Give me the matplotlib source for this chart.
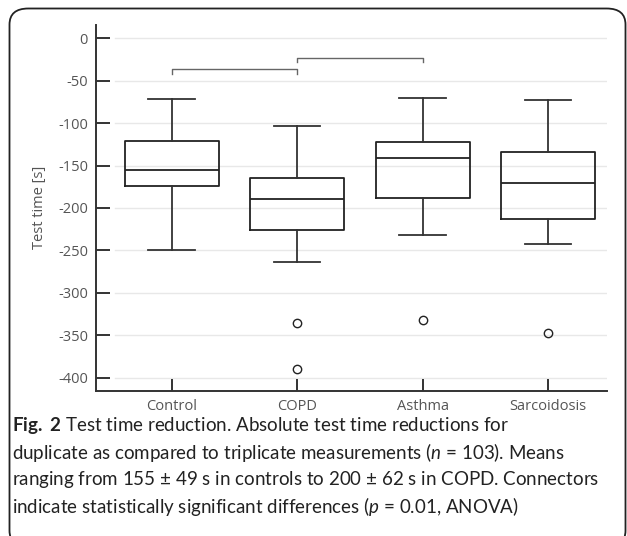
import matplotlib.pyplot as plt
from matplotlib.patches import FancyBboxPatch

plt.rcParams['font.family'] = ['Open Sans', 'DejaVu Sans']
plt.rcParams['mathtext.fontset'] = 'custom'
plt.rcParams['mathtext.rm'] = 'Lato'
plt.rcParams['mathtext.it'] = 'Lato:italic'
plt.rcParams['mathtext.bf'] = 'Lato:bold'

groups = ['Control', 'COPD', 'Asthma', 'Sarcoidosis']
whis_hi = [-71, -103, -70, -73]
q3 = [-121.5, -165, -122.5, -134.5]
medians = [-155.5, -189.5, -141.5, -170.5]
q1 = [-174, -226.5, -188.5, -212.5]
whis_lo = [-249.5, -264, -232, -242]
fliers = [[], [-336, -390], [-332], [-348]]

# significant pairs (1-based group positions) and connector heights
pairs = [(1, 2), (2, 3)]
pair_y = [-36.5, -23]
pair_drop = 5.5

fig = plt.figure(figsize=(6.27, 5.36), dpi=100)
ax = fig.add_axes([0.1536, 0.2711, 0.8144, 0.6823])

stats = []
for i in range(len(groups)):
    stats.append({'label': groups[i], 'whislo': whis_lo[i], 'q1': q1[i],
                  'med': medians[i], 'q3': q3[i], 'whishi': whis_hi[i],
                  'fliers': fliers[i]})

lw = 1.3
ax.bxp(stats, positions=range(1, len(groups) + 1), widths=0.75,
       capwidths=0.37,
       boxprops=dict(color='#222222', linewidth=lw),
       medianprops=dict(color='#222222', linewidth=lw),
       whiskerprops=dict(color='#333333', linewidth=lw),
       capprops=dict(color='#333333', linewidth=lw),
       flierprops=dict(marker='o', markersize=6, markerfacecolor='none',
                       markeredgecolor='#222222', markeredgewidth=1.0))

for (a, b), h in zip(pairs, pair_y):
    ax.plot([a, a, b, b], [h - pair_drop, h, h, h - pair_drop],
            color='#666666', linewidth=1.0, zorder=1)

yticks = [0, -50, -100, -150, -200, -250, -300, -350, -400]
for t in yticks:
    ax.axhline(t, xmin=0.037, xmax=1, color='#e8e8e8', linewidth=1.0, zorder=0)

ax.set_xlim(0.4, 4.468)
ax.set_ylim(-415.5, 15.7)
ax.set_yticks(yticks)
ax.set_yticklabels([str(t) for t in yticks])
ax.set_xticks(range(1, len(groups) + 1))
ax.set_xticklabels(groups)

for s in ['top', 'right']:
    ax.spines[s].set_visible(False)
for s in ['left', 'bottom']:
    ax.spines[s].set_color('#333333')
    ax.spines[s].set_linewidth(1.4)

ax.tick_params(axis='y', direction='in', length=10, width=1.4, color='#333333',
               labelsize=10.5, labelcolor='#555555', pad=6)
ax.tick_params(axis='x', direction='in', length=9, width=1.4, color='#333333',
               labelsize=10.5, labelcolor='#555555', pad=6)
ax.set_ylabel('Test time [s]', fontsize=10.5, color='#555555', labelpad=8)

# caption
cap = [r'$\mathbf{Fig.\ 2}$ Test time reduction. Absolute test time reductions for',
       r'duplicate as compared to triplicate measurements ($n$ = 103). Means',
       r'ranging from 155 $\pm$ 49 s in controls to 200 $\pm$ 62 s in COPD. Connectors',
       r'indicate statistically significant differences ($p$ = 0.01, ANOVA)']
for i, line in enumerate(cap):
    fig.text(12 / 627, 1 - (426 + i * 27) / 536, line, fontsize=13.5,
             family='Lato', color='#222222', va='center', ha='left')

border = FancyBboxPatch((9.5 / 627, -0.02), 616 / 627, 1.02 - 8.5 / 536,
                        boxstyle='round,pad=0,rounding_size=0.03',
                        transform=fig.transFigure, fill=False,
                        edgecolor='#222222', linewidth=1.3)
fig.patches.append(border)

fig.savefig('out.png', dpi=100)
